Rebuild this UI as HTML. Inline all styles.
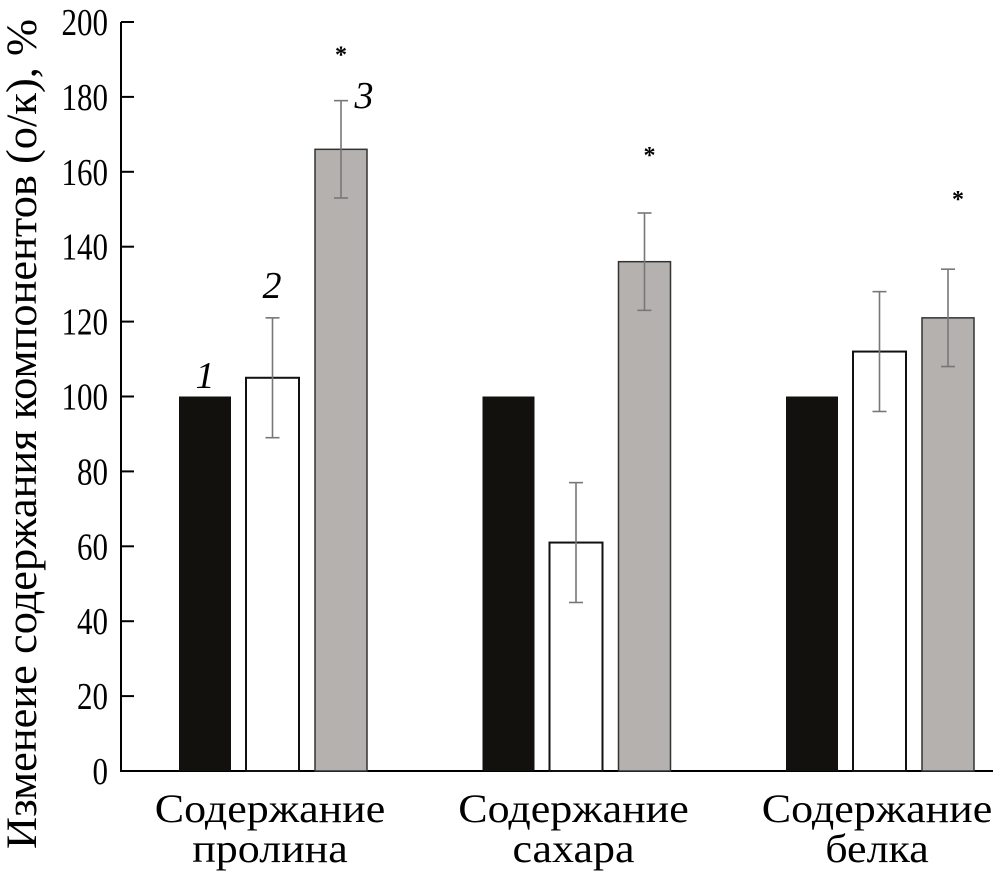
<!DOCTYPE html>
<html><head><meta charset="utf-8"><style>
body{margin:0;background:#fff}
svg{display:block;font-family:"Liberation Serif","DejaVu Serif",serif}
</style></head><body>
<svg id="c" width="993" height="876" xmlns="http://www.w3.org/2000/svg"></svg>
<script>
const categories=[["Содержание","пролина"],["Содержание","сахара"],["Содержание","белка"]];
const series1=[100,100,100];
const series2=[105,61,112];
const err2=[16,16,16];
const series3=[166,136,121];
const err3=[13,13,13];
const yTicks=[0,20,40,60,80,100,120,140,160,180,200];
const ns="http://www.w3.org/2000/svg";
const svg=document.getElementById('c');
function y(v){return 771-v*3.745;}
function gx(i){return 179+i*303.5;}
function el(t,a,p){const e=document.createElementNS(ns,t);for(const k in a)e.setAttribute(k,a[k]);(p||svg).appendChild(e);return e;}
let ax=el('line',{x1:121,y1:y(200),x2:121,y2:771.5,stroke:'#000','stroke-width':2});


let bx=el('line',{x1:120,y1:771,x2:993,y2:771,stroke:'#000','stroke-width':2});


yTicks.forEach(t=>{
 let l=el('line',{x1:121,y1:y(t),x2:134,y2:y(t),stroke:'#000','stroke-width':2});
 
 
 const s=String(t);
 let tx=el('text',{x:108,y:y(t)+13,'text-anchor':'end','font-size':38,textLength:s.length*15.5,lengthAdjust:'spacingAndGlyphs'});
 tx.textContent=s;
 
 
});
let yt=el('text',{x:0,y:0,transform:'translate(36,434) rotate(-90)','text-anchor':'middle','font-size':43,textLength:830,lengthAdjust:'spacingAndGlyphs'});
yt.textContent='Изменеие содержания компонентов (о/к), %';


function errbar(cx,v,e){
 const g=el('g',{stroke:'#777','stroke-width':1.6});
 
 
 el('line',{x1:cx,y1:y(v+e),x2:cx,y2:y(v-e)},g);
 el('line',{x1:cx-7,y1:y(v+e),x2:cx+7,y2:y(v+e)},g);
 el('line',{x1:cx-7,y1:y(v-e),x2:cx+7,y2:y(v-e)},g);
}
categories.forEach((c,i)=>{
 const x0=gx(i);
 let b1=el('rect',{x:x0,y:y(series1[i]),width:52,height:771-y(series1[i]),fill:'#12110d'});
 
 
 let b2=el('rect',{x:x0+67,y:y(series2[i]),width:53,height:771-y(series2[i]),fill:'#fff',stroke:'#12110d','stroke-width':2});
 
 
 let b3=el('rect',{x:x0+136,y:y(series3[i]),width:52,height:771-y(series3[i]),fill:'#b4b1af',stroke:'#333','stroke-width':1.5});
 
 
 errbar(x0+93.5,series2[i],err2[i]);
 errbar(x0+162,series3[i],err3[i]);
 let st=el('text',{x:x0+162+i*5,y:y(series3[i]+err3[i])-38-i*12,'text-anchor':'middle','font-size':24,'font-weight':'bold'});
 st.textContent='*';
 
 
 const cx=x0+91;
 c.forEach((s,k)=>{
  let t=el('text',{x:0,y:0,transform:`translate(${cx},${822+k*40}) scale(1.1,1)`,'text-anchor':'middle','font-size':40});
  t.textContent=s;
  
  
 });
});
[[205,388,'1'],[272,298,'2'],[364,108,'3']].forEach(a=>{
 let t=el('text',{x:a[0],y:a[1],'text-anchor':'middle','font-size':38,'font-style':'italic'});
 t.textContent=a[2];
 
 
});
</script>
</body></html>
